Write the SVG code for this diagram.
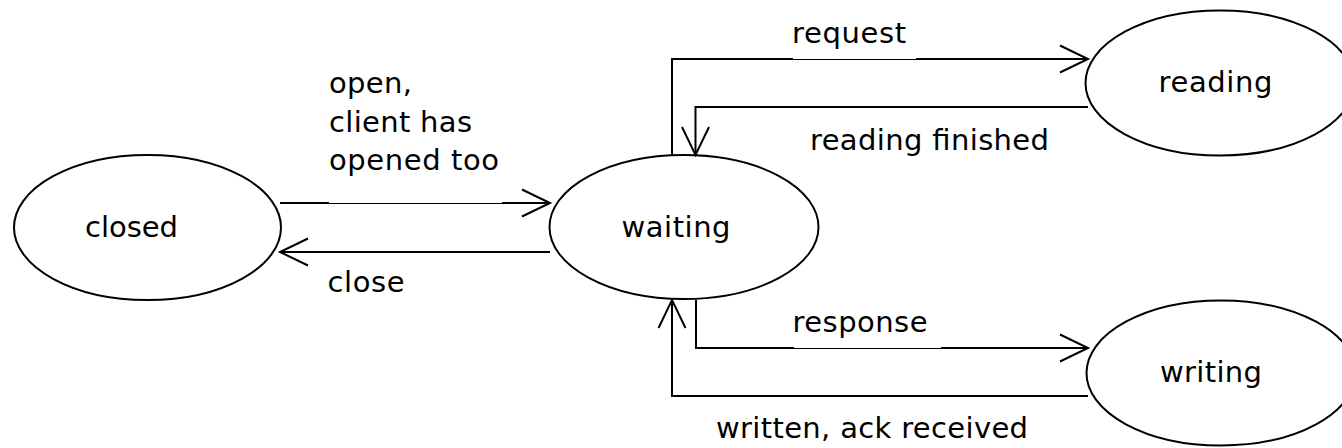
<svg xmlns="http://www.w3.org/2000/svg" width="1342" height="448" viewBox="0 0 1342 448">
<defs>
<style>
.node ellipse{fill:#fff;stroke:#000;stroke-width:2}
text{font-family:"DejaVu Sans","Liberation Sans",sans-serif;font-size:29px;fill:#000}
.c path{fill:none;stroke:#000;stroke-width:2}
.c path.thin{stroke-width:1}
</style>
<marker id="v" markerUnits="userSpaceOnUse" viewBox="-30 -16 32 32" refX="0" refY="0" markerWidth="32" markerHeight="32" orient="auto" overflow="visible">
<path d="M-28,-13.5 L0,0 L-28,13.5" fill="none" stroke="#000" stroke-width="2"/>
</marker>
</defs>
<rect width="1342" height="448" fill="#fff"/>
<g id="closed" class="node">
<ellipse cx="147.5" cy="227.5" rx="133.5" ry="72.5"/>
<text x="85" y="237" textLength="93" lengthAdjust="spacing">closed</text>
</g>
<g id="waiting" class="node">
<ellipse cx="684" cy="227" rx="134.5" ry="72"/>
<text x="621.5" y="237" textLength="109" lengthAdjust="spacing">waiting</text>
</g>
<g id="reading" class="node">
<ellipse cx="1220" cy="83" rx="134.5" ry="72.5"/>
<text x="1158.5" y="92" textLength="114" lengthAdjust="spacing">reading</text>
</g>
<g id="writing" class="node">
<ellipse cx="1221" cy="373" rx="134.5" ry="72.5"/>
<text x="1160" y="382" textLength="102" lengthAdjust="spacing">writing</text>
</g>
<g id="connectors" class="c">
<g id="e-open">
<path d="M280,203 H329"/>
<path class="thin" d="M329,203.5 H502"/>
<path d="M502,203 H550" marker-end="url(#v)"/>
<text x="329" y="93" textLength="83" lengthAdjust="spacing">open,</text>
<text x="329" y="132" textLength="143" lengthAdjust="spacing">client has</text>
<text x="329" y="170" textLength="170" lengthAdjust="spacing">opened too</text>
</g>
<g id="e-close">
<path d="M550,252 H280" marker-end="url(#v)"/>
<text x="327.5" y="292" textLength="77" lengthAdjust="spacing">close</text>
</g>
<g id="e-request">
<path d="M672,155 V59 H793"/>
<path class="thin" d="M793,59.5 H916"/>
<path d="M916,59 H1088" marker-end="url(#v)"/>
<text x="792" y="43" textLength="114" lengthAdjust="spacing">request</text>
</g>
<g id="e-finished">
<path d="M1088,107 H695.5 V155" marker-end="url(#v)"/>
<text x="810" y="150" textLength="239" lengthAdjust="spacing">reading finished</text>
</g>
<g id="e-response">
<path d="M696,300 V348 H794"/>
<path class="thin" d="M794,348.5 H941"/>
<path d="M941,348 H1088" marker-end="url(#v)"/>
<text x="792.5" y="332" textLength="135" lengthAdjust="spacing">response</text>
</g>
<g id="e-written">
<path d="M1088,396 H672 V300" marker-end="url(#v)"/>
<text x="716" y="438" textLength="312" lengthAdjust="spacing">written, ack received</text>
</g>
</g>
</svg>
